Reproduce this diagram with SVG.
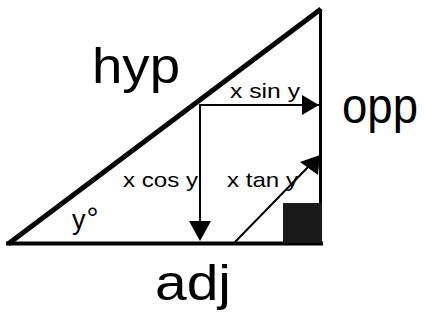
<svg xmlns="http://www.w3.org/2000/svg" width="425" height="321" viewBox="0 0 425 321">
<defs>
<style>
.big{font-family:"Liberation Sans",Arial,sans-serif;font-size:50px;fill:#000}
.sm{font-family:"Liberation Sans",Arial,sans-serif;font-size:21px;fill:#000}
.ln{stroke:#000;fill:none}
</style>
</defs>
<rect width="425" height="321" fill="#fff"/>
<g id="triangle">
<line class="ln" x1="8" y1="244" x2="321" y2="9" stroke-width="5"/>
<line class="ln" x1="6" y1="243.5" x2="323" y2="243.5" stroke-width="4"/>
<line class="ln" x1="320.5" y1="9" x2="320.5" y2="245" stroke-width="3"/>
<rect id="right-angle" x="283" y="203" width="39" height="40" fill="#1a1a1a"/>
</g>
<g id="connectors">
<line class="ln" x1="200" y1="105" x2="319" y2="105" stroke-width="2"/>
<path d="M302,95 L319,105 L302,115 Z" fill="#000"/>
<line class="ln" x1="200" y1="104" x2="200" y2="225" stroke-width="2"/>
<path d="M189,221 L211,221 L200,241 Z" fill="#000"/>
<line class="ln" x1="235" y1="242" x2="310" y2="165" stroke-width="2"/>
<path d="M320,155 L318,175 L300,162 Z" fill="#000"/>
</g>
<g id="labels">
<text class="big" x="92" y="83" textLength="88" lengthAdjust="spacingAndGlyphs">hyp</text>
<text class="big" x="342" y="123" textLength="76" lengthAdjust="spacingAndGlyphs">opp</text>
<text class="big" x="155" y="300" textLength="76" lengthAdjust="spacingAndGlyphs">adj</text>
<text class="sm" x="230" y="98" textLength="70" lengthAdjust="spacingAndGlyphs">x sin y</text>
<text class="sm" x="123" y="187" textLength="75" lengthAdjust="spacingAndGlyphs">x cos y</text>
<text class="sm" x="227" y="187" textLength="71" lengthAdjust="spacingAndGlyphs">x tan y</text>
<text class="sm" x="72" y="229" style="font-size:27px">y<tspan style="font-size:30px" dx="1" dy="-1">°</tspan></text>
</g>
</svg>
